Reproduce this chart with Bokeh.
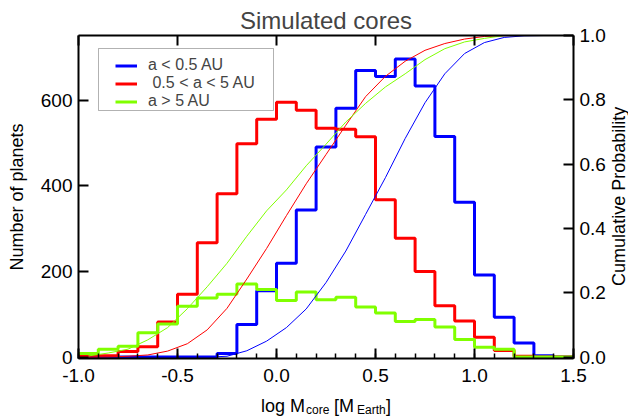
import math
from bokeh.plotting import figure
from bokeh.layouts import column
from bokeh.models import (Range1d, LinearAxis, FixedTicker, SingleIntervalTicker,
                          PrintfTickFormatter, Legend, LegendItem, Label, BoxAnnotation)
from bokeh.embed import file_html
from bokeh.resources import INLINE

# ---- data ----
bin_edges = [-1.0, -0.9, -0.8, -0.7, -0.6, -0.5, -0.4, -0.3, -0.2, -0.1, 0.0,
             0.1, 0.2, 0.3, 0.4, 0.5, 0.6, 0.7, 0.8, 0.9, 1.0, 1.1, 1.2, 1.3, 1.4, 1.5]
bin_centers = [-0.95, -0.85, -0.75, -0.65, -0.55, -0.45, -0.35, -0.25, -0.15, -0.05,
               0.05, 0.15, 0.25, 0.35, 0.45, 0.55, 0.65, 0.75, 0.85, 0.95,
               1.05, 1.15, 1.25, 1.35, 1.45]

hist_inner = [0, 0, 0, 0, 0, 0, 0, 8, 76, 155, 219, 344, 491, 582, 670, 656, 697,
              634, 516, 362, 192, 93, 33, 3, 0]
hist_mid = [1, 3, 13, 24, 82, 147, 267, 382, 499, 556, 596, 577, 535, 533, 515, 368,
            278, 200, 120, 84, 46, 15, 2, 0, 0]
hist_outer = [8, 18, 25, 57, 77, 119, 138, 147, 171, 158, 132, 152, 134, 140, 117, 103,
              83, 88, 70, 41, 23, 18, 0, 0, 0]

cum_inner = [0.0, 0.0, 0.0, 0.0, 0.0, 0.0, 0.0, 0.003, 0.020, 0.050, 0.092, 0.150,
             0.232, 0.330, 0.444, 0.558, 0.680, 0.791, 0.881, 0.944, 0.978, 0.994,
             0.999, 1.0, 1.0]
cum_mid = [0.0002, 0.0007, 0.003, 0.007, 0.019, 0.042, 0.085, 0.152, 0.243, 0.338,
           0.440, 0.539, 0.630, 0.721, 0.810, 0.873, 0.920, 0.954, 0.975, 0.989,
           0.997, 0.9997, 1.0, 1.0, 1.0]
cum_outer = [0.004, 0.013, 0.025, 0.054, 0.092, 0.151, 0.219, 0.292, 0.376, 0.455,
             0.520, 0.595, 0.662, 0.731, 0.789, 0.840, 0.881, 0.925, 0.959, 0.980,
             0.991, 1.0, 1.0, 1.0, 1.0]

labels = ["a < 0.5 AU", "\u00a00.5 < a < 5 AU", "a > 5 AU"]
colors = ["#0000ff", "#ff0000", "#80ff00"]

x_ticks = [-1.0, -0.5, 0.0, 0.5, 1.0, 1.5]
left_ticks = [0, 200, 400, 600]
right_ticks = [0.0, 0.2, 0.4, 0.6, 0.8, 1.0]

title_text = "Simulated cores"
y_label = "Number of planets"
y2_label = "Cumulative Probability"
# x-axis label pieces: (text, is_subscript, horizontal offset from the frame centre in px)
x_label_parts = [("log M", False, -65), ("core", True, -20), ("[M", False, 8),
                 ("Earth", True, 31), ("]", False, 60)]

FONT = "Liberation Sans"

p = figure(width=628, height=390, output_backend="svg", toolbar_location=None,
           x_range=Range1d(-1.0, 1.5), y_range=Range1d(-3.5, 752),
           min_border_left=78, min_border_right=54, min_border_top=35,
           min_border_bottom=32, x_axis_location=None, y_axis_location=None)
p.outline_line_color = None
p.background_fill_color = "white"
p.border_fill_color = "white"
p.xgrid.visible = False
p.ygrid.visible = False
p.extra_y_ranges = {"cum": Range1d(-0.004, 1.0)}

def style_axis(ax, size="19px"):
    ax.axis_line_width = 2
    ax.axis_line_color = "black"
    ax.major_tick_line_width = 2
    ax.minor_tick_line_width = 1.5
    ax.major_tick_in = 10
    ax.major_tick_out = 0
    ax.minor_tick_in = 5
    ax.minor_tick_out = 0
    ax.major_label_text_font = FONT
    ax.major_label_text_font_size = size
    ax.major_label_text_color = "black"
    ax.major_label_standoff = 6
    ax.axis_label_text_font = FONT
    ax.axis_label_text_font_size = "18px"
    ax.axis_label_text_font_style = "normal"
    ax.axis_label_text_color = "black"

# bottom axis
xb = LinearAxis(ticker=SingleIntervalTicker(interval=0.5, num_minor_ticks=5),
                formatter=PrintfTickFormatter(format="%.1f"))
style_axis(xb)
xb.major_label_standoff = 10
p.add_layout(xb, "below")

# top axis (ticks only, labels not painted)
xt = LinearAxis(ticker=FixedTicker(ticks=x_ticks))
style_axis(xt)
xt.major_label_text_font_size = "0px"
xt.major_label_text_color = None
xt.major_label_standoff = 0
xt.minor_tick_in = 0
p.add_layout(xt, "above")

# left axis
yl = LinearAxis(ticker=FixedTicker(ticks=left_ticks), axis_label=y_label)
style_axis(yl)
yl.axis_label_standoff = 11
p.add_layout(yl, "left")

# right axis (label is drawn as a rotated Label in its own side panel)
yr = LinearAxis(y_range_name="cum", ticker=FixedTicker(ticks=right_ticks),
                formatter=PrintfTickFormatter(format="%.1f"))
style_axis(yr)
p.add_layout(yr, "right")
p.add_layout(Label(x=10, x_units="screen", y=0.5, y_units="data", y_range_name="cum",
                   text=y2_label, angle=math.pi / 2, text_align="center",
                   text_baseline="middle", text_font=FONT, text_font_size="18px",
                   text_color="black"), "right")

# title
p.title.text = title_text
p.title.align = "center"
p.title.text_font = FONT
p.title.text_font_size = "24px"
p.title.text_font_style = "normal"
p.title.standoff = 3

# histograms
renderers = []
for vals, col in zip([hist_inner, hist_mid, hist_outer], colors):
    r = p.step(x=bin_edges, y=vals + [vals[-1]], mode="after",
               line_color=col, line_width=3)
    renderers.append(r)

# cumulative curves
for cum, col in zip([cum_inner, cum_mid, cum_outer], colors):
    p.line(x=bin_centers, y=cum, y_range_name="cum", line_color=col, line_width=1)

# legend
legend = Legend(items=[LegendItem(label=l, renderers=[r]) for l, r in zip(labels, renderers)],
                location=(32, 243), padding=5, margin=0, spacing=0,
                glyph_width=22, glyph_height=17, label_height=17, label_standoff=11,
                label_text_font=FONT, label_text_font_size="16px",
                border_line_alpha=0, background_fill_alpha=0)
p.add_layout(legend, "center")
p.add_layout(BoxAnnotation(left=20, right=195, top=310, bottom=248,
                           left_units="screen", right_units="screen",
                           top_units="screen", bottom_units="screen",
                           fill_alpha=0, line_color="black", line_width=1))

# strip under the plot holding the x-axis label (with subscripts)
p2 = figure(width=628, height=27, output_backend="svg", toolbar_location=None,
            title=None, x_range=p.x_range, y_range=Range1d(0, 27),
            min_border_left=78, min_border_right=54, min_border_top=0,
            min_border_bottom=0, x_axis_location=None, y_axis_location=None)
p2.outline_line_color = None
p2.xgrid.visible = False
p2.ygrid.visible = False
p2.background_fill_color = "white"
p2.border_fill_color = "white"
x_mid = (p.x_range.start + p.x_range.end) / 2
for txt, sub, off in x_label_parts:
    p2.add_layout(Label(x=x_mid, x_offset=off, y=8 if sub else 11.3, y_units="screen",
                        text=txt, text_font=FONT,
                        text_font_size="12px" if sub else "18px",
                        text_baseline="alphabetic", text_align="left",
                        text_color="black"))

layout = column(p, p2, spacing=0)
open("out.html", "w").write(file_html(layout, INLINE))
